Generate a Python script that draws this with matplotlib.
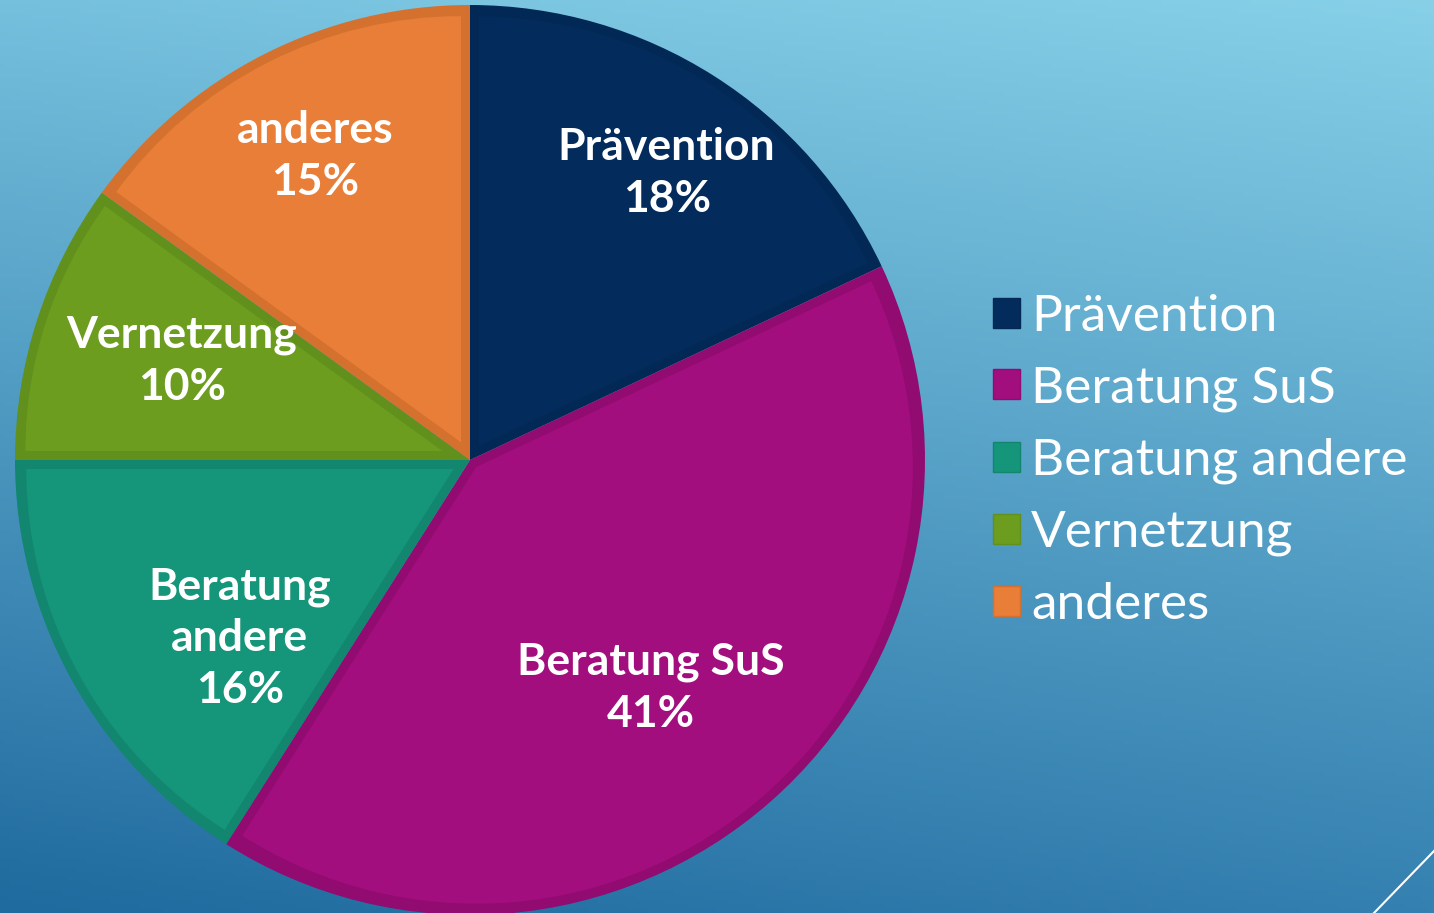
import numpy as np
import matplotlib.pyplot as plt
from matplotlib.patches import Patch, Wedge

# chart data
categories = ['Prävention', 'Beratung SuS', 'Beratung andere', 'Vernetzung', 'anderes']
shares = [18, 41, 16, 10, 15]
label_names = ['Prävention', 'Beratung SuS', 'Beratung\nandere', 'Vernetzung', 'anderes']

fills = ['#032C5D', '#A30E7E', '#15957A', '#6C9D1F', '#E87E37']
edges = ['#022855', '#920B71', '#12866E', '#61901C', '#D5712F']
label_dist = [0.765, 0.64, 0.64, 0.67, 0.75]
label_shift = [-2, -3, 9, -1, 0]  # degrees

plt.rcParams['font.family'] = ['Lato', 'DejaVu Sans']

W, H = 1434, 913
fig = plt.figure(figsize=(W / 100, H / 100), dpi=100)
ax = fig.add_axes([0, 0, 1, 1])

# background gradient from corner colours
tl = np.array([0x75, 0xC0, 0xDD]) / 255
tr = np.array([0x87, 0xD0, 0xE8]) / 255
bl = np.array([0x1F, 0x6A, 0x9E]) / 255
br = np.array([0x34, 0x80, 0xB0]) / 255
yy, xx = np.mgrid[0:1:200j, 0:1:300j]
grad = ((1 - yy)[..., None] * ((1 - xx)[..., None] * tl + xx[..., None] * tr)
        + yy[..., None] * ((1 - xx)[..., None] * bl + xx[..., None] * br))
ax.imshow(grad, extent=[0, W, 0, H], origin='upper', aspect='auto', zorder=0)

cx, cy, R = 470, 453, 455
border = 9
wedges, _ = ax.pie(shares, colors=edges, startangle=90, counterclock=False,
                   center=(cx, cy), radius=R, frame=True,
                   wedgeprops=dict(edgecolor='none', zorder=2))

# inner fill of each slice, inset by the border width
for w, fc in zip(wedges, fills):
    mid = np.deg2rad((w.theta1 + w.theta2) / 2)
    half = np.deg2rad(abs(w.theta2 - w.theta1) / 2)
    d = border / np.sin(half)
    c = (cx + d * np.cos(mid), cy + d * np.sin(mid))
    ax.add_patch(Wedge(c, R - border - d, w.theta1, w.theta2,
                       facecolor=fc, edgecolor='none', zorder=2.5))

ax.set_xlim(0, W)
ax.set_ylim(0, H)
ax.set_aspect('equal')
ax.axis('off')

for w, name, pct, d, sh in zip(wedges, label_names, shares, label_dist, label_shift):
    ang = np.deg2rad((w.theta1 + w.theta2) / 2 + sh)
    x = cx + d * R * np.cos(ang)
    y = cy + d * R * np.sin(ang)
    ax.text(x, y, f'{name}\n{pct}%', ha='center', va='center', color='white',
            fontsize=32, fontweight='bold', linespacing=1.35, zorder=3)

handles = [Patch(facecolor=f, edgecolor=e, linewidth=1) for f, e in zip(fills, edges)]
leg = ax.legend(handles, categories, loc='center left',
                bbox_to_anchor=(993 / W, 1 - 461 / H), frameon=False,
                fontsize=37, handlelength=0.52, handleheight=0.52,
                handletextpad=0.22, labelspacing=0.5, borderaxespad=0, borderpad=0)
for t in leg.get_texts():
    t.set_color('white')

# slide decoration
ax.plot([1374, W], [0, 62], color='white', lw=1.5, zorder=4)

fig.savefig('out.png', dpi=100)
